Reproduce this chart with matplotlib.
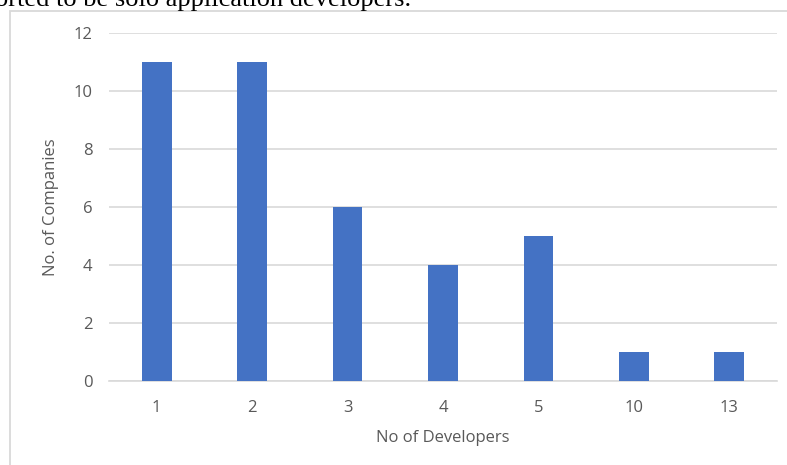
import matplotlib.pyplot as plt
from matplotlib.patches import Rectangle

developers = ["1", "2", "3", "4", "5", "10", "13"]
companies = [11, 11, 6, 4, 5, 1, 1]
y_ticks = [0, 2, 4, 6, 8, 10, 12]

W, H = 787, 465
GREY = "#595959"
FS = 12

fig = plt.figure(figsize=(W / 100, H / 100), dpi=100)

# line of body text above the chart box, clipped by the top edge
fig.text(-5 / W, 1 - 6 / H, "orted to be solo application developers.",
         family="Liberation Serif", fontsize=19, color="black",
         ha="left", va="baseline")

# chart area border
fig.add_artist(Rectangle((10 / W, -0.1), 1.2, 1 - 11 / H + 0.1,
                         transform=fig.transFigure, fill=False,
                         edgecolor="#D9D9D9", linewidth=1.3))

ax = fig.add_axes([109 / W, 1 - 381 / H, (777 - 109) / W, (381 - 33) / H])

x = range(len(developers))
ax.bar(x, companies, width=0.31, color="#4472C4", zorder=3)

ax.set_xlim(-0.5, len(developers) - 0.5)
ax.set_ylim(0, 12)
ax.set_yticks(y_ticks)
ax.set_xticks(list(x))
ax.set_xticklabels(developers)

ax.grid(axis="y", color="#D9D9D9", linewidth=1.2, zorder=0)
for side in ["top", "right", "left"]:
    ax.spines[side].set_visible(False)
ax.spines["bottom"].set_color("#D9D9D9")
ax.spines["bottom"].set_linewidth(1.2)
ax.tick_params(axis="y", length=0, labelsize=FS, labelcolor=GREY, pad=12)
ax.tick_params(axis="x", length=0, labelsize=FS, labelcolor=GREY, pad=14)
for lbl in ax.get_xticklabels() + ax.get_yticklabels():
    lbl.set_family("Open Sans")

ax.set_xlabel("No of Developers", family="Open Sans", fontsize=FS,
              color=GREY, labelpad=10)
ax.set_ylabel("No. of Companies", family="Open Sans", fontsize=FS,
              color=GREY, labelpad=10)

plt.savefig("out.png", dpi=100)
